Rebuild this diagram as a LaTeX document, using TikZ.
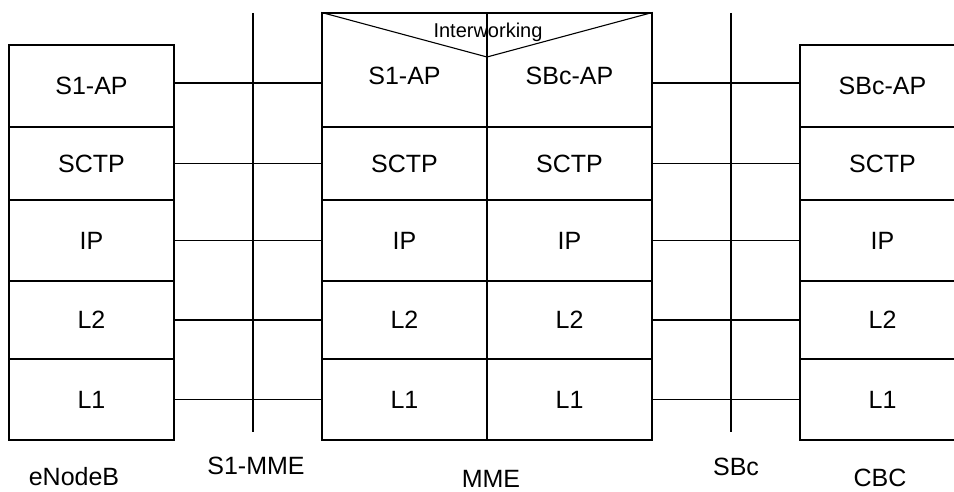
\documentclass[tikz,border=0pt]{standalone}
\usepackage{fontspec}
\setmainfont{Liberation Sans}
\usepackage{tikz}

\begin{document}
\begin{tikzpicture}[x=1pt,y=-1pt,line width=1.1pt,
  layer/.style={draw,rectangle,minimum width=165pt,inner sep=0pt,font=\fontsize{25}{30}\selectfont},
  tag/.style={font=\fontsize{25}{30}\selectfont}]
\path[use as bounding box] (0,0) rectangle (954,492);
\clip (0,0) rectangle (954,492);

% eNodeB stack
\node [layer,minimum height=82pt] (enbS1) at (91.5,86) {S1-AP};
\node [layer,minimum height=73pt] (enbSctp) at (91.5,163.5) {SCTP};
\node [layer,minimum height=81pt] (enbIp) at (91.5,240.5) {IP};
\node [layer,minimum height=78pt] (enbL2) at (91.5,320) {L2};
\node [layer,minimum height=81pt] (enbL1) at (91.5,399.5) {L1};

% MME stack
\node [draw,minimum width=330pt,minimum height=427pt,inner sep=0pt] (mme) at (487,226.5) {};
\node [layer,minimum height=114pt,text height=29pt] (mmeS1) at (404.5,70) {S1-AP};
\node [layer,minimum height=73pt] (mmeSctpL) at (404.5,163.5) {SCTP};
\node [layer,minimum height=81pt] (mmeIpL) at (404.5,240.5) {IP};
\node [layer,minimum height=78pt] (mmeL2L) at (404.5,320) {L2};
\node [layer,minimum height=81pt] (mmeL1L) at (404.5,399.5) {L1};

\node [layer,minimum height=114pt,text height=29pt] (mmeSbc) at (569.5,70) {SBc-AP};
\node [layer,minimum height=73pt] (mmeSctpR) at (569.5,163.5) {SCTP};
\node [layer,minimum height=81pt] (mmeIpR) at (569.5,240.5) {IP};
\node [layer,minimum height=78pt] (mmeL2R) at (569.5,320) {L2};
\node [layer,minimum height=81pt] (mmeL1R) at (569.5,399.5) {L1};

\coordinate (iwtip) at (487,57);
\draw (mme.north west) -- (iwtip) -- (mme.north east);
\draw [line width=2pt] (iwtip) -- (mme.south);
\node [font=\fontsize{20}{24}\selectfont] (iw) at (488,32) {Interworking};

% CBC stack
\node [layer,minimum height=82pt] (cbcSbc) at (882.5,86) {SBc-AP};
\node [layer,minimum height=73pt] (cbcSctp) at (882.5,163.5) {SCTP};
\node [layer,minimum height=81pt] (cbcIp) at (882.5,240.5) {IP};
\node [layer,minimum height=78pt] (cbcL2) at (882.5,320) {L2};
\node [layer,minimum height=81pt] (cbcL1) at (882.5,399.5) {L1};

% peer links
\coordinate (apline) at (0,83);
\draw (enbS1.east |- apline) -- (mmeS1.west |- apline);
\draw (enbSctp.east) -- (mmeSctpL.west);
\draw (enbIp.east) -- (mmeIpL.west);
\draw (enbL2.east) -- (mmeL2L.west);
\draw (enbL1.east) -- (mmeL1L.west);

\draw (mmeSbc.east |- apline) -- (cbcSbc.west |- apline);
\draw (mmeSctpR.east) -- (cbcSctp.west);
\draw (mmeIpR.east) -- (cbcIp.west);
\draw (mmeL2R.east) -- (cbcL2.west);
\draw (mmeL1R.east) -- (cbcL1.west);

% reference points
\coordinate (s1top) at (253,13);
\coordinate (s1end) at (253,432);
\draw (s1top) -- (s1end);
\coordinate (sbctop) at (731,13);
\coordinate (sbcend) at (731,432);
\draw (sbctop) -- (sbcend);

% names
\node [tag] (enbName) at (74,477) {eNodeB};
\node [tag] (s1Name) at (256,466) {S1-MME};
\node [tag] (mmeName) at (491,479) {MME};
\node [tag] (sbcName) at (736,467) {SBc};
\node [tag] (cbcName) at (880,478) {CBC};
\end{tikzpicture}
\end{document}
